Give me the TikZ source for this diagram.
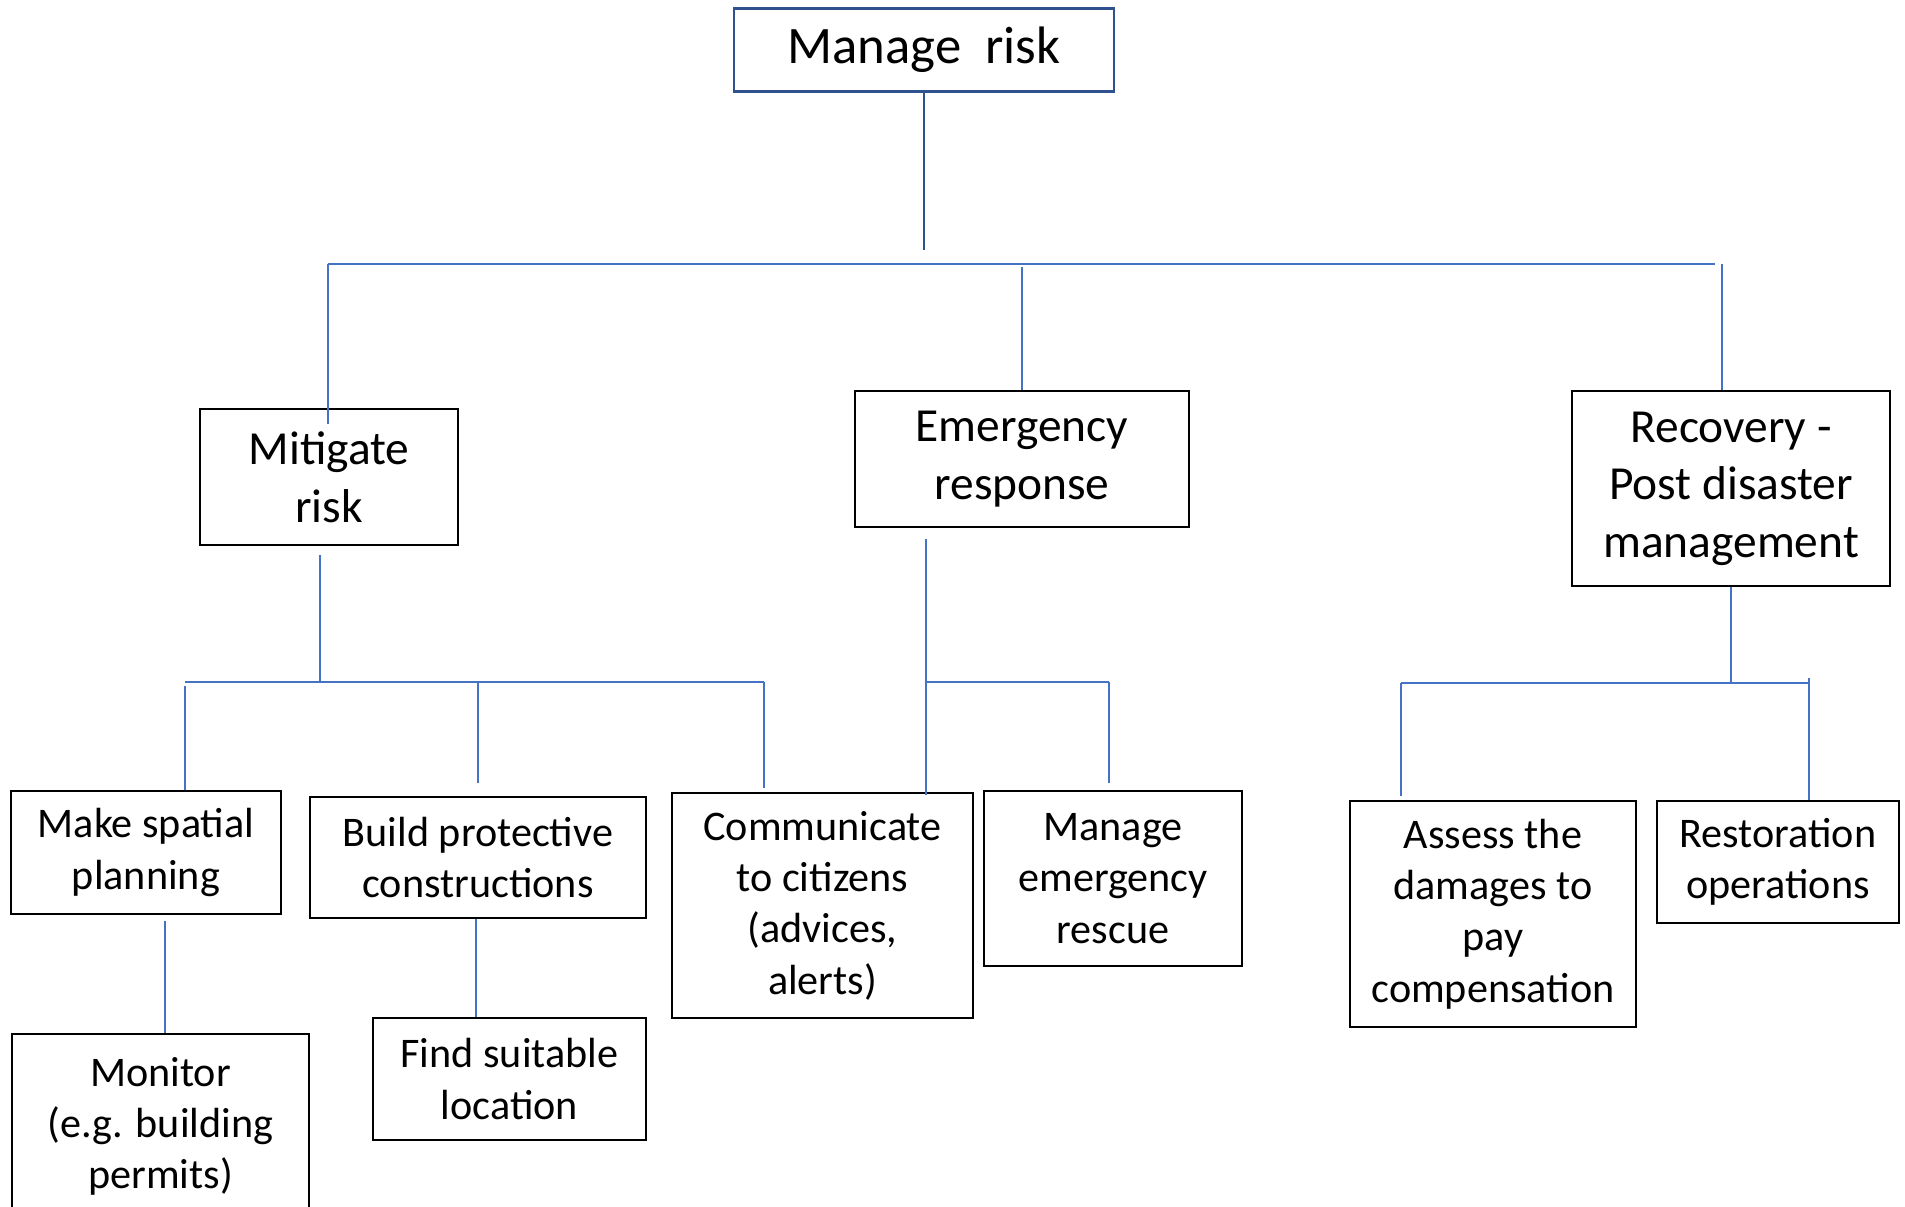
\documentclass[tikz,border=0pt]{standalone}
\usepackage{fontspec}
\setmainfont{Carlito}
\definecolor{linkblue}{HTML}{4472C4}
\definecolor{rootblue}{HTML}{2F528F}

\begin{document}
\begin{tikzpicture}[
    box/.style={draw=black, line width=0.7pt, inner sep=0pt, align=center, font=\fontsize{12}{14.6}\selectfont},
    topbox/.style={box, font=\fontsize{13.5}{16.4}\selectfont},
    link/.style={draw=linkblue, line width=0.45pt},
    bar/.style={draw=linkblue, line width=0.8pt}
  ]
        \useasboundingbox (0, 0) rectangle (19.05, -12.07);

        % root
        \node[box, draw=rootblue, line width=0.8pt, font=\fontsize{15}{18}\selectfont, minimum width=3.80cm, minimum height=0.835cm] (root) at (9.24, -0.50) {Manage~ risk};

        % first level
        \node[topbox, minimum width=2.58cm, minimum height=1.36cm] (mitigate) at (3.29, -4.77) {Mitigate\\risk};
        \node[topbox, minimum width=3.34cm, minimum height=1.36cm] (emergency) at (10.22, -4.59) {Emergency\\response};
        \node[topbox, minimum width=3.18cm, minimum height=1.95cm] (recovery) at (17.31, -4.885) {Recovery -\\Post disaster\\management};

        % second level
        \node[box, minimum width=2.70cm, minimum height=1.23cm] (spatial) at (1.46, -8.525) {Make spatial\\planning};
        \node[box, minimum width=3.36cm, minimum height=1.21cm] (protect) at (4.78, -8.575) {Build protective\\constructions};
        \node[box, minimum width=3.01cm, minimum height=2.25cm] (communicate) at (8.225, -9.055) {Communicate\\to citizens\\(advices,\\alerts)};
        \node[box, minimum width=2.58cm, minimum height=1.75cm] (rescue) at (11.13, -8.785) {Manage\\emergency\\rescue};
        \node[box, minimum width=2.86cm, minimum height=2.26cm] (assess) at (14.93, -9.14) {Assess the\\damages to\\pay\\compensation};
        \node[box, minimum width=2.42cm, minimum height=1.22cm] (restore) at (17.78, -8.62) {Restoration\\operations};

        % third level
        \node[box, minimum width=2.97cm, minimum height=1.85cm] (monitor) at (1.605, -11.265) {Monitor\\(e.g. building\\permits)};
        \node[box, minimum width=2.73cm, minimum height=1.22cm] (find) at (5.095, -10.79) {Find suitable\\location};

        % top tree
        \coordinate (rootend) at (9.24, -2.50);
        \coordinate (topleft) at (3.28, -2.64);
        \coordinate (topright) at (17.15, -2.64);
        \draw[link, rootblue] (root.south) -- (rootend);
        \draw[bar] (topleft) -- (topright);
        \draw[link, shorten >=-0.16cm] (topleft) -- (topleft |- mitigate.north);
        \draw[link, shorten <=0.03cm] (emergency.north |- topleft) -- (emergency.north);
        \draw[link] ([xshift=-0.09cm]recovery.north |- topleft) -- ([xshift=-0.09cm]recovery.north);

        % mitigate tree
        \coordinate (mitjoin) at (3.20, -6.82);
        \coordinate (mitleft) at (1.85, -6.82);
        \coordinate (mitright) at (7.64, -6.82);
        \draw[link, shorten <=0.09cm] (mitjoin |- mitigate.south) -- (mitjoin);
        \draw[bar] (mitleft) -- (mitright);
        \draw[link, shorten <=0.04cm] (mitleft) -- (mitleft |- spatial.north);
        \draw[link, shorten >=0.13cm] (protect.north |- mitleft) -- (protect.north);
        \draw[link, shorten >=0.04cm] (mitright) -- (mitright |- communicate.north);
        \draw[link, shorten <=0.06cm] (1.65,0 |- spatial.south) -- (1.65,0 |- monitor.north);
        \draw[link] (4.76,0 |- protect.south) -- (4.76,0 |- find.north);

        % emergency tree
        \coordinate (emgleft) at (9.26, -6.82);
        \coordinate (emgright) at (11.09, -6.82);
        \draw[link, shorten <=0.11cm, shorten >=-0.03cm] (emgleft |- emergency.south) -- (emgleft |- communicate.north);
        \draw[bar] (emgleft) -- (emgright);
        \draw[link, shorten >=0.07cm] (emgright) -- (emgright |- rescue.north);

        % recovery tree
        \coordinate (recjoin) at (17.31, -6.83);
        \coordinate (recleft) at (14.01, -6.83);
        \coordinate (recright) at (18.09, -6.83);
        \draw[link] (recovery.south) -- (recjoin);
        \draw[bar] (recleft) -- (recright);
        \draw[link, shorten >=0.04cm] (recleft) -- (recleft |- assess.north);
        \draw[link, shorten <=-0.05cm] (recright) -- (recright |- restore.north);
      \end{tikzpicture}
\end{document}
